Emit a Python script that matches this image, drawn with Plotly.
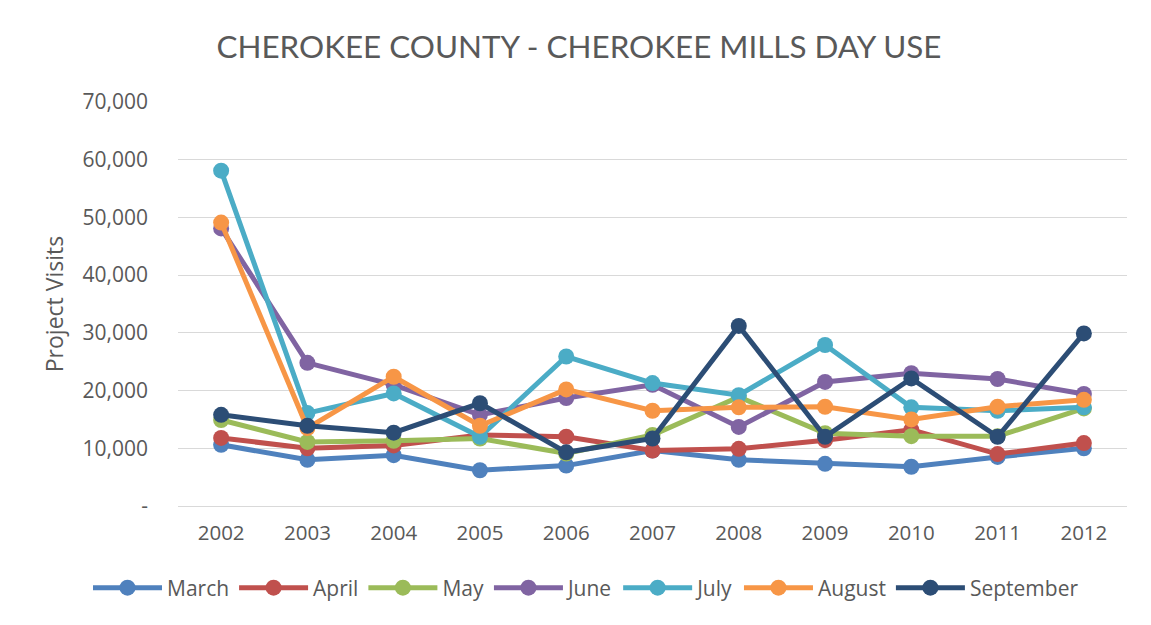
import plotly.graph_objects as go

years = ["2002", "2003", "2004", "2005", "2006", "2007", "2008", "2009", "2010", "2011", "2012"]

march = [10600, 8000, 8800, 6200, 7000, 9600, 8000, 7300, 6800, 8500, 10000]
april = [11800, 10000, 10500, 12300, 12000, 9600, 9900, 11400, 13200, 9000, 10900]
may = [14900, 11100, 11300, 11700, 9100, 12300, 18900, 12600, 12100, 12100, 16900]
june = [48100, 24800, 21000, 15800, 18700, 21000, 13700, 21500, 23000, 22000, 19400]
july = [58100, 16100, 19500, 12000, 25900, 21300, 19200, 27900, 17100, 16500, 17100]
august = [49100, 13500, 22400, 13900, 20200, 16500, 17100, 17200, 15000, 17200, 18400]
september = [15800, 13900, 12700, 17800, 9300, 11700, 31200, 12000, 22100, 12000, 29900]

series = [
    ("March", march, "#4F81BD"),
    ("April", april, "#C0504D"),
    ("May", may, "#9BBB59"),
    ("June", june, "#8064A2"),
    ("July", july, "#4BACC6"),
    ("August", august, "#F79646"),
    ("September", september, "#2C4D75"),
]

tick_vals = [0, 10000, 20000, 30000, 40000, 50000, 60000, 70000]
tick_text = ["-", "10,000", "20,000", "30,000", "40,000", "50,000", "60,000", "70,000"]

fig = go.Figure()
for name, vals, color in series:
    fig.add_trace(go.Scatter(
        x=years, y=vals, name=name, mode="lines+markers",
        line=dict(color=color, width=5),
        marker=dict(color=color, size=16),
    ))

body_font = "'Open Sans', sans-serif"
title_font = "Lato, 'Open Sans', sans-serif"
gray = "#595959"

fig.update_layout(
    width=1143, height=617,
    paper_bgcolor="white", plot_bgcolor="white",
    margin=dict(l=170, r=24, t=94, b=119),
    title=dict(text="CHEROKEE COUNTY - CHEROKEE MILLS DAY USE",
               x=(579 - 8) / 1143, xanchor="center", y=1 - 39 / 617, yanchor="middle",
               font=dict(family=title_font, size=31.4, color=gray)),
    font=dict(family=body_font, color=gray),
    xaxis=dict(type="category", range=[-0.5, 10.5], showgrid=False,
               showline=True, linecolor="#d9d9d9", linewidth=1.3,
               ticks="", tickfont=dict(size=20.5, color=gray), ticklabelstandoff=8),
    yaxis=dict(range=[0, 70000], tickvals=tick_vals, ticktext=tick_text,
               showgrid=True, gridcolor="#d9d9d9", gridwidth=1.3,
               zeroline=False, showline=False, ticks="",
               tickfont=dict(size=21, color=gray), ticklabelstandoff=29,
               title=dict(text="Project Visits", font=dict(size=23, color=gray), standoff=12)),
    legend=dict(orientation="h", x=(80 - 170) / 949, xanchor="left", y=-82 / 404, yanchor="middle",
                font=dict(size=21, color=gray), itemwidth=69, tracegroupgap=0),
    showlegend=True,
)

fig.write_html("out.html")
